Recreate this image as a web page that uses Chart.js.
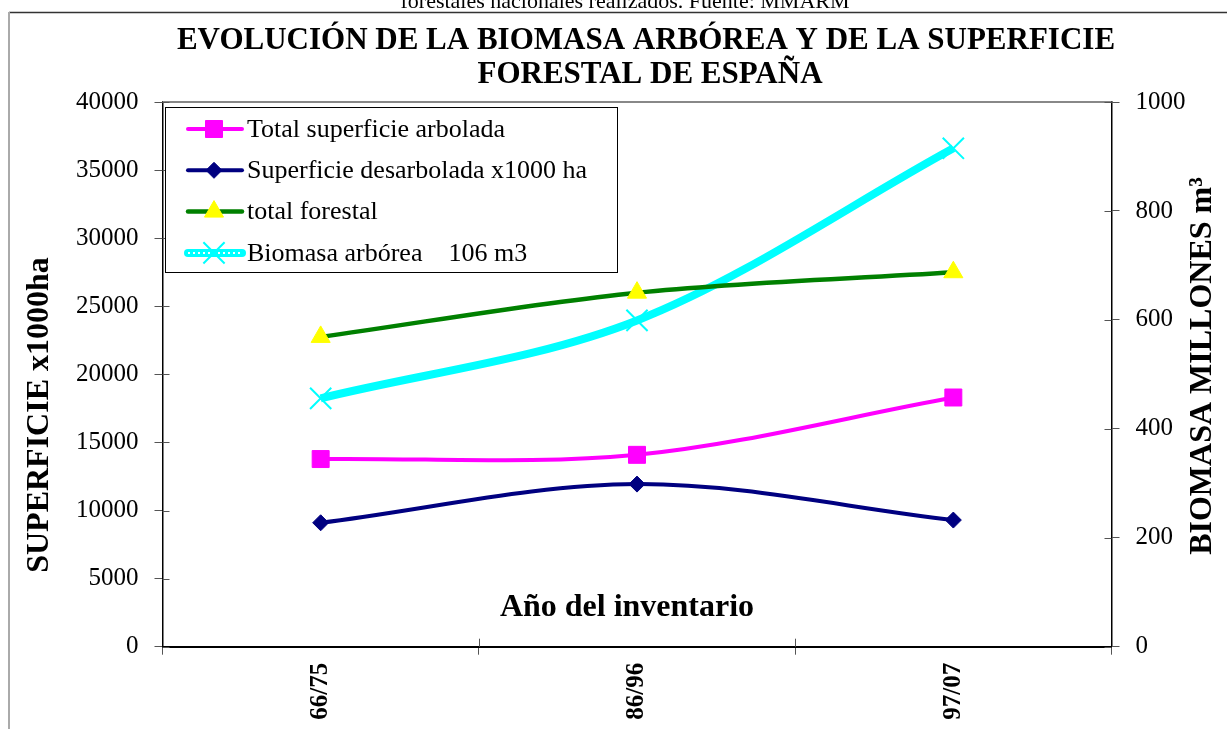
<!DOCTYPE html>
<html>
<head>
<meta charset="utf-8">
<script src="https://cdn.jsdelivr.net/npm/chart.js@4.4.0/dist/chart.umd.min.js"></script>
<style>
  html, body { margin: 0; padding: 0; background: #fff; overflow: hidden; }
  #forestChart { display: block; }
</style>
</head>
<body>
<canvas id="forestChart" width="1227" height="729"></canvas>
<script>
const categories = ["66/75", "86/96", "97/07"];
const superficieArbolada = [13780, 14090, 18300];
const superficieDesarbolada = [9100, 11940, 9300];
const totalForestal = [22750, 26000, 27500];
const biomasa = [456, 599, 915];
const leftTicks = [0, 5000, 10000, 15000, 20000, 25000, 30000, 35000, 40000];
const rightTicks = [0, 200, 400, 600, 800, 1000];

const SERIF = "'Liberation Serif', 'Times New Roman', serif";
Chart.defaults.font.family = SERIF;
Chart.defaults.color = "#000";

// frame, titles and the inner half of the tick marks
const decor = {
  id: "decor",
  beforeDraw(chart) {
    const ctx = chart.ctx;
    ctx.save();
    ctx.fillStyle = "#fff";
    ctx.fillRect(0, 0, chart.width, chart.height);
    ctx.restore();
  },
  afterDraw(chart) {
    const ctx = chart.ctx;
    const a = chart.chartArea;
    ctx.save();

    // outer frame
    ctx.strokeStyle = "#333";
    ctx.lineWidth = 1.5;
    ctx.beginPath();
    ctx.moveTo(9, 12.5);
    ctx.lineTo(chart.width, 12.5);
    ctx.stroke();
    ctx.strokeStyle = "#aaa";
    ctx.lineWidth = 2;
    ctx.beginPath();
    ctx.moveTo(9, 12);
    ctx.lineTo(9, chart.height);
    ctx.stroke();

    // top of plot area
    ctx.strokeStyle = "#888";
    ctx.lineWidth = 2;
    ctx.beginPath();
    ctx.moveTo(a.left, a.top);
    ctx.lineTo(a.right, a.top);
    ctx.stroke();

    // inner tick marks
    ctx.strokeStyle = "#555";
    ctx.lineWidth = 1;
    const y = chart.scales.y, y1 = chart.scales.y1, x = chart.scales.x;
    ctx.beginPath();
    leftTicks.forEach(v => {
      const p = Math.round(y.getPixelForValue(v)) + 0.5;
      ctx.moveTo(a.left, p); ctx.lineTo(a.left + 7, p);
    });
    rightTicks.forEach(v => {
      const p = Math.round(y1.getPixelForValue(v)) + 0.5;
      ctx.moveTo(a.right - 7, p); ctx.lineTo(a.right, p);
    });
    for (let i = 1; i < categories.length; i++) {
      const p = Math.round((x.getPixelForValue(i - 1) + x.getPixelForValue(i)) / 2) + 0.5;
      ctx.moveTo(p, a.bottom); ctx.lineTo(p, a.bottom - 8);
    }
    ctx.stroke();

    ctx.fillStyle = "#000";
    ctx.textAlign = "center";

    // cut-off caption above the frame
    ctx.font = "22px " + SERIF;
    ctx.textBaseline = "alphabetic";
    ctx.fillText("forestales nacionales realizados. Fuente: MMARM", 625, 8);

    // main title
    ctx.font = "bold 31px " + SERIF;
    ctx.textBaseline = "middle";
    ctx.fillText("EVOLUCIÓN DE LA BIOMASA ARBÓREA Y DE LA SUPERFICIE", 646, 41);
    ctx.fillText("FORESTAL DE ESPAÑA", 650, 75);

    // axis titles
    ctx.font = "bold 32px " + SERIF;
    ctx.fillText("Año del inventario", 627, 608);

    ctx.save();
    ctx.translate(40, 415);
    ctx.rotate(-Math.PI / 2);
    ctx.fillText("SUPERFICIE x1000ha", 0, 0);
    ctx.restore();

    ctx.save();
    ctx.translate(1203, 366);
    ctx.rotate(-Math.PI / 2);
    ctx.fillText("BIOMASA MILLONES m³", 0, 0);
    ctx.restore();

    ctx.restore();
  }
};

// Excel-style legend: line sample with the marker in the middle
const boxLegend = {
  id: "boxLegend",
  afterDraw(chart) {
    const ctx = chart.ctx;
    const bx = 165.5, by = 107.5, bw = 452, bh = 165;
    ctx.save();
    ctx.fillStyle = "#fff";
    ctx.fillRect(bx, by, bw, bh);
    ctx.strokeStyle = "#000";
    ctx.lineWidth = 1;
    ctx.strokeRect(bx, by, bw, bh);

    const items = chart.data.datasets.filter(d => d.inLegend);
    items.forEach((ds, i) => {
      const cy = 129 + i * 41.3;
      ctx.lineCap = "round";
      ctx.strokeStyle = ds.borderColor;
      ctx.lineWidth = ds.borderWidth;
      ctx.beginPath();
      ctx.moveTo(188, cy); ctx.lineTo(242, cy);
      ctx.stroke();
      if (ds.dotted) {
        ctx.strokeStyle = "#fff";
        ctx.lineWidth = 2;
        ctx.lineCap = "butt";
        ctx.setLineDash([2, 3]);
        ctx.beginPath();
        ctx.moveTo(188, cy); ctx.lineTo(242, cy);
        ctx.stroke();
        ctx.setLineDash([]);
      }
      ctx.lineCap = "butt";
      ctx.fillStyle = ds.pointBackgroundColor;
      ctx.strokeStyle = ds.pointBorderColor;
      ctx.lineWidth = ds.pointBorderWidth;
      Chart.helpers.drawPoint(ctx, {
        pointStyle: ds.pointStyle,
        radius: ds.pointRadius,
        borderWidth: ds.pointBorderWidth,
        rotation: 0
      }, 214, cy);
      ctx.fillStyle = "#000";
      ctx.font = "26px " + SERIF;
      ctx.textAlign = "left";
      ctx.textBaseline = "middle";
      ctx.fillText(ds.label, 247, cy + 1);
    });
    ctx.restore();
  }
};

const plainTick = v => String(v);

new Chart(document.getElementById("forestChart"), {
  type: "line",
  data: {
    labels: categories,
    datasets: [
      {
        label: "Total superficie arbolada",
        data: superficieArbolada,
        yAxisID: "y",
        borderColor: "#ff00ff",
        borderWidth: 4,
        pointStyle: "rect",
        pointRadius: 12,
        pointBackgroundColor: "#ff00ff",
        pointBorderColor: "#ff00ff",
        pointBorderWidth: 1,
        tension: 0.33,
        inLegend: true
      },
      {
        label: "Superficie desarbolada x1000 ha",
        data: superficieDesarbolada,
        yAxisID: "y",
        borderColor: "#000080",
        borderWidth: 4,
        pointStyle: "rectRot",
        pointRadius: 8,
        pointBackgroundColor: "#000080",
        pointBorderColor: "#000080",
        pointBorderWidth: 1,
        tension: 0.33,
        inLegend: true
      },
      {
        label: "total forestal",
        data: totalForestal,
        yAxisID: "y",
        borderColor: "#008000",
        borderWidth: 4.5,
        pointStyle: "triangle",
        pointRadius: 11,
        pointBackgroundColor: "#ffff00",
        pointBorderColor: "#ffff00",
        pointBorderWidth: 1,
        tension: 0.33,
        inLegend: true
      },
      {
        label: "Biomasa arbórea    106 m3",
        data: biomasa,
        yAxisID: "y1",
        borderColor: "#00ffff",
        borderWidth: 8,
        pointStyle: "crossRot",
        pointRadius: 15,
        pointBackgroundColor: "#00ffff",
        pointBorderColor: "#00ffff",
        pointBorderWidth: 2,
        tension: 0.33,
        inLegend: true,
        dotted: true
      },
      {
        label: "",
        data: biomasa,
        yAxisID: "y1",
        borderColor: "#ffffff",
        borderWidth: 2,
        borderDash: [2, 3],
        pointRadius: 0,
        tension: 0.33
      }
    ]
  },
  plugins: [decor, boxLegend],
  options: {
    responsive: false,
    animation: false,
    events: [],
    layout: { padding: { top: 102, left: 0, right: 0, bottom: 0 } },
    plugins: {
      legend: { display: false },
      title: { display: false },
      tooltip: { enabled: false }
    },
    scales: {
      x: {
        offset: true,
        grid: { offset: true, drawOnChartArea: false, tickLength: 8, color: "#555" },
        border: { color: "#000", width: 2 },
        ticks: {
          minRotation: 90,
          maxRotation: 90,
          padding: 8,
          font: { size: 25, weight: "bold", family: SERIF },
          color: "#000"
        },
        afterFit(scale) { scale.height = 82.3; }
      },
      y: {
        position: "left",
        min: leftTicks[0],
        max: leftTicks[leftTicks.length - 1],
        afterBuildTicks(scale) { scale.ticks = leftTicks.map(v => ({ value: v })); },
        grid: { drawOnChartArea: false, tickLength: 8, color: "#555" },
        border: { color: "#000", width: 1.5 },
        ticks: { padding: 16, font: { size: 25, family: SERIF }, color: "#000", callback: plainTick },
        afterFit(scale) { scale.width = 162.5; }
      },
      y1: {
        position: "right",
        min: rightTicks[0],
        max: rightTicks[rightTicks.length - 1],
        afterBuildTicks(scale) { scale.ticks = rightTicks.map(v => ({ value: v })); },
        grid: { drawOnChartArea: false, tickLength: 8, color: "#555" },
        border: { color: "#000", width: 1.5 },
        ticks: { padding: 16, font: { size: 25, family: SERIF }, color: "#000", callback: plainTick },
        afterFit(scale) { scale.width = 115.5; }
      }
    }
  }
});
</script>
</body>
</html>
